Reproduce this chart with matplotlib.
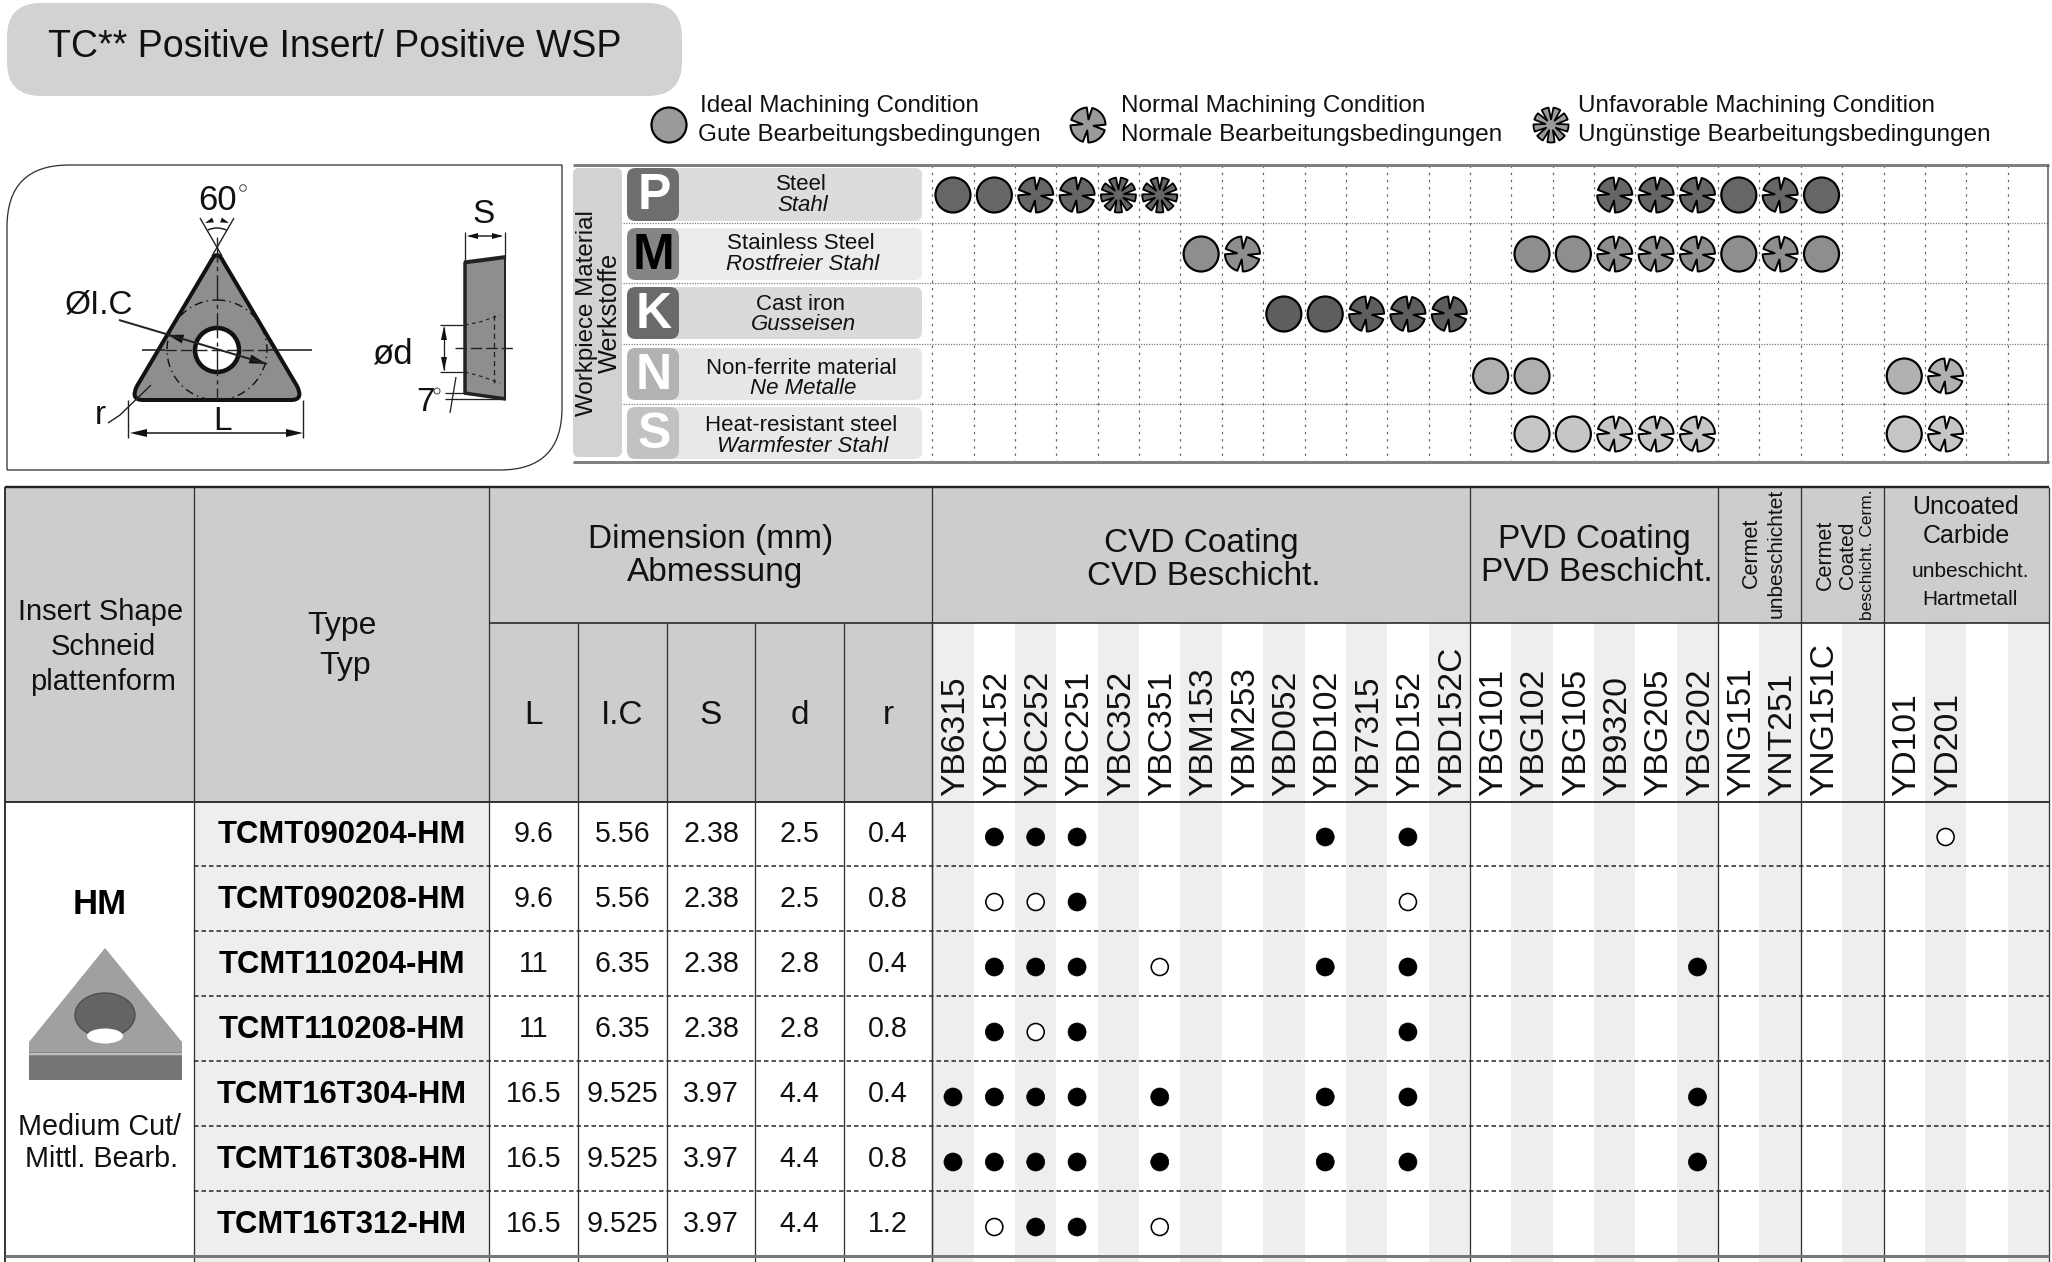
import numpy as np
import matplotlib
matplotlib.use("Agg")
import matplotlib.pyplot as plt
from matplotlib.patches import Rectangle, FancyBboxPatch, Circle, Ellipse, Polygon, PathPatch, Arc
from matplotlib.path import Path

plt.rcParams['font.family'] = ['Liberation Sans', 'DejaVu Sans']

# ---------- data ----------
title = "TC** Positive Insert/ Positive WSP"
legend_en = ["Ideal Machining Condition", "Normal Machining Condition", "Unfavorable Machining Condition"]
legend_de = ["Gute Bearbeitungsbedingungen", "Normale Bearbeitungsbedingungen", "Ungünstige Bearbeitungsbedingungen"]

grades = ["YB6315", "YBC152", "YBC252", "YBC251", "YBC352", "YBC351", "YBM153", "YBM253", "YBD052",
          "YBD102", "YB7315", "YBD152", "YBD152C", "YBG101", "YBG102", "YBG105", "YB9320", "YBG205",
          "YBG202", "YNG151", "YNT251", "YNG151C", "", "YD101", "YD201", "", ""]

materials = ["P", "M", "K", "N", "S"]
material_en = ["Steel", "Stainless Steel", "Cast iron", "Non-ferrite material", "Heat-resistant steel"]
material_de = ["Stahl", "Rostfreier Stahl", "Gusseisen", "Ne Metalle", "Warmfester Stahl"]

# rating: 0 ideal, 1 normal, 2 unfavourable, keyed by grade column
rating_P = {0: 0, 1: 0, 2: 1, 3: 1, 4: 2, 5: 2, 16: 1, 17: 1, 18: 1, 19: 0, 20: 1, 21: 0}
rating_M = {6: 0, 7: 1, 14: 0, 15: 0, 16: 1, 17: 1, 18: 1, 19: 0, 20: 1, 21: 0}
rating_K = {8: 0, 9: 0, 10: 1, 11: 1, 12: 1}
rating_N = {13: 0, 14: 0, 23: 0, 24: 1}
rating_S = {14: 0, 15: 0, 16: 1, 17: 1, 18: 1, 23: 0, 24: 1}
ratings = [rating_P, rating_M, rating_K, rating_N, rating_S]

models = ["TCMT090204-HM", "TCMT090208-HM", "TCMT110204-HM", "TCMT110208-HM",
          "TCMT16T304-HM", "TCMT16T308-HM", "TCMT16T312-HM"]
dim_L = ["9.6", "9.6", "11", "11", "16.5", "16.5", "16.5"]
dim_IC = ["5.56", "5.56", "6.35", "6.35", "9.525", "9.525", "9.525"]
dim_S = ["2.38", "2.38", "2.38", "2.38", "3.97", "3.97", "3.97"]
dim_d = ["2.5", "2.5", "2.8", "2.8", "4.4", "4.4", "4.4"]
dim_r = ["0.4", "0.8", "0.4", "0.8", "0.4", "0.8", "1.2"]

# recommended (filled) and available (open) grades per model row
filled = [[1, 2, 3, 9, 11], [3], [1, 2, 3, 9, 11, 18], [1, 3, 11],
          [0, 1, 2, 3, 5, 9, 11, 18], [0, 1, 2, 3, 5, 9, 11, 18], [2, 3]]
opened = [[24], [1, 2, 11], [5], [2], [], [], [1, 5]]

# ---------- layout ----------
W, H = 2052, 1262
fig = plt.figure(figsize=(W / 100, H / 100), dpi=100)
ax = fig.add_axes([0, 0, 1, 1])
ax.set_xlim(0, W)
ax.set_ylim(H, 0)
ax.axis('off')

px = 0.72
X0 = 932.3
XR = 2049
CW = (XR - X0) / 27
def cx(i):
    return X0 + CW * (i + 0.5)

def T(x, y, s, size, **kw):
    kw.setdefault('ha', 'center')
    kw.setdefault('va', 'center')
    kw.setdefault('color', '#111111')
    if kw.get('rotation'):
        x += 3
    else:
        y += 2.7
    return ax.text(x, y, s, fontsize=size, **kw)

def L(xs, ys, lw=1.0, c='#222222', ls='-', z=3, **kw):
    ax.plot(xs, ys, color=c, lw=lw * px, ls=ls, zorder=z, solid_capstyle='butt', **kw)

def R(x0, y0, x1, y1, c, z=1):
    ax.add_patch(Rectangle((x0, y0), x1 - x0, y1 - y0, fc=c, ec='none', zorder=z))

def RB(x0, y0, x1, y1, rad, c, z=1):
    ax.add_patch(FancyBboxPatch((x0 + rad, y0 + rad), x1 - x0 - 2 * rad, y1 - y0 - 2 * rad,
                                boxstyle=f"round,pad={rad},rounding_size={rad}", fc=c, ec='none', zorder=z))

def head(tip, base, w=5, c='#111111'):
    t, b = np.array(tip, float), np.array(base, float)
    d = t - b
    n = np.array([-d[1], d[0]]) / np.hypot(*d) * w
    ax.add_patch(Polygon([t, b + n, b - n], fc=c, ec='none', zorder=6))

def notched(x, y, r, angles, hw, depth, fc, lw=1.8, z=5):
    """Circle with radial slits at the given angles (degrees, counter-clockwise)."""
    angles = sorted(np.mod(angles, 360))
    pts = []
    for k, a in enumerate(angles):
        nxt = angles[(k + 1) % len(angles)] + (360 if k == len(angles) - 1 else 0)
        pts.append((a, depth * r))
        for t in np.linspace(a + hw, nxt - hw, 14):
            pts.append((t, r))
    p = [(x + q * np.cos(np.radians(t)), y - q * np.sin(np.radians(t))) for t, q in pts]
    ax.add_patch(Polygon(p, closed=True, fc=fc, ec='black', lw=lw * px, joinstyle='round', zorder=z))

NORMAL_ANG = [85, -8, 262, 172]
UNFAV_ANG = [10 + 40 * k for k in range(9)]

def mark(x, y, kind, fc, r=17.5):
    if kind == 0:
        ax.add_patch(Circle((x, y), r, fc=fc, ec='black', lw=2.2 * px, zorder=5))
    elif kind == 1:
        notched(x, y, r, NORMAL_ANG, 9, 0.32, fc, lw=2.0)
    else:
        notched(x, y, r, UNFAV_ANG, 8, 0.32, fc, lw=1.8)

# ---------- title ----------
RB(7, 3, 682, 96, 34, '#d2d2d2')
T(48, 44, title, 27, ha='left')

# ---------- legend ----------
legend_mark_x = [669, 1088, 1551]
legend_en_x = [700, 1121, 1578]
legend_de_x = [698, 1121, 1578]
for i in range(3):
    mark(legend_mark_x[i], 125, i, '#9a9a9a')
    T(legend_en_x[i], 103.5, legend_en[i], 17.5, ha='left')
    T(legend_de_x[i], 132.5, legend_de[i], 17.5, ha='left')

# ---------- diagram frame ----------
rad = 62
verts = [(7, 470), (7, 165 + rad), (7, 165), (7 + rad, 165), (562, 165), (562, 470 - rad), (562, 470),
         (562 - rad, 470), (7, 470)]
codes = [Path.MOVETO, Path.LINETO, Path.CURVE3, Path.CURVE3, Path.LINETO, Path.LINETO, Path.CURVE3, Path.CURVE3, Path.LINETO]
ax.add_patch(PathPatch(Path(verts, codes), fc='white', ec='#333333', lw=1.3 * px, zorder=2))

# triangle view
tri = Path([(217, 255), (220, 255), (223, 261), (297, 386), (304, 400), (291, 400), (143, 400), (130, 400),
            (137, 386), (211, 261), (214, 255), (217, 255)],
           [Path.MOVETO, Path.CURVE3, Path.CURVE3, Path.LINETO, Path.CURVE3, Path.CURVE3, Path.LINETO,
            Path.CURVE3, Path.CURVE3, Path.LINETO, Path.CURVE3, Path.CURVE3])
ax.add_patch(PathPatch(tri, fc='#8e8e8e', ec='#111111', lw=4 * px, zorder=4))
ax.add_patch(Circle((217, 350), 50, fc='none', ec='#111111', lw=1.4 * px, ls=(0, (6, 3, 1, 3)), zorder=5))
ax.add_patch(Circle((217, 350), 22, fc='white', ec='#111111', lw=4.5 * px, zorder=5))
L([142, 165], [350, 350], 1.6, z=5)
L([267, 312], [350, 350], 1.6, z=5)
L([165, 267], [350, 350], 1.4, ls=(0, (8, 3)), z=6)
L([217, 217], [237, 400], 1.4, ls=(0, (18, 3, 3, 3)), z=6)
L([200, 222], [218, 256], 1.4, z=3)
L([234, 212], [218, 256], 1.4, z=3)
ax.add_patch(Arc((217, 250), 44, 44, theta1=245, theta2=295, ec='#111111', lw=1.4 * px, zorder=5))
head((205, 223), (213, 220), 2.5)
head((229, 223), (221, 220), 2.5)
T(218, 198, "60", 25)
ax.add_patch(Circle((243, 188), 3.3, fc='white', ec='#333333', lw=0.9 * px, zorder=5))
T(99, 302, "ØI.C", 24)
L([119, 267], [320, 364], 2.0, z=7)
head((168, 335), (183, 339), 4.5)
head((267, 364), (250, 359), 4.5)
T(100, 413, "r", 24)
L([108, 120, 151], [423, 415, 385], 1.4, z=5)
L([128, 128], [400, 438], 1.4)
L([303, 303], [400, 438], 1.4)
L([135, 298], [433, 433], 1.6)
head((130, 433), (147, 433), 4)
head((303, 433), (286, 433), 4)
T(223, 419, "L", 24)

# side view
ax.add_patch(Polygon([(465, 262), (505, 257), (505, 398), (465, 393)], fc='#8e8e8e', ec='none', zorder=4))
L([465, 465], [262, 393], 3.5, z=5)
L([505, 505], [257, 398], 2.0, z=5)
L([464, 506], [262.5, 257], 4, z=5)
L([464, 506], [393, 399], 3.5, z=5)
L([465, 465], [232, 262], 1.3)
L([505, 505], [232, 257], 1.3)
L([469, 501], [236, 236], 1.5)
head((467, 236), (478, 236), 3)
head((503, 236), (492, 236), 3)
T(484, 212, "S", 24)
L([440, 465], [325, 325], 1.3)
L([440, 465], [372, 372], 1.3)
L([444, 444], [327, 370], 1.3)
head((444, 326), (444, 340), 3)
head((444, 371), (444, 357), 3)
T(393, 351, "ød", 25)
L([455, 514], [348, 348], 1.4, ls=(0, (8, 3)), z=6)
L([494, 494], [315, 383], 1.3, ls=(0, (4, 3)), z=6)
L([465, 480, 500], [325, 322, 315], 1.2, ls=(0, (3, 3)), z=6)
L([465, 480, 500], [372, 376, 383], 1.2, ls=(0, (3, 3)), z=6)
T(425, 400, "7", 24)
ax.add_patch(Circle((437, 391), 3, fc='white', ec='#333333', lw=0.9 * px, zorder=5))
L([445, 465], [393, 393], 1.3)
L([445, 505], [399, 399], 1.3)
L([456, 450], [377, 413], 1.3)

# ---------- material table ----------
Y_top, Y_bot = 165, 462
row_sep = [223, 283, 344, 404]
for y in row_sep:
    L([573, XR], [y, y], 1.2, c='#777777', ls=(0, (1, 1.2)), z=2)
for i in range(1, 27):
    L([X0 + CW * i] * 2, [Y_top, Y_bot], 1.2, c='#666666', ls=(0, (2, 4)), z=2)
L([X0, X0], [Y_top, Y_bot], 1.2, c='#666666', ls=(0, (2, 4)), z=2)
L([573, XR], [Y_top, Y_top], 3, c='#808080', z=3)
L([573, XR], [Y_bot, Y_bot], 3, c='#808080', z=3)
L([XR - 1, XR - 1], [Y_top, Y_bot], 1.5, c='#555555', z=3)
RB(573, 168, 622, 457, 6, '#d2d2d2', z=2)
T(584, 313, "Workpiece Material", 17.4, rotation=90)
T(607, 313, "Werkstoffe", 18.2, rotation=90)

box_y = [(168, 221), (228, 280), (287, 339), (348, 400), (407, 459)]
box_col = ['#dcdcdc', '#ececec', '#dadada', '#e6e6e6', '#e8e8e8']
badge_col = ['#6e6e6e', '#858585', '#6a6a6a', '#b2b2b2', '#c2c2c2']
letter_col = ['white', 'black', 'white', 'white', 'white']
mark_col = ['#666666', '#8e8e8e', '#5e5e5e', '#b0b0b0', '#c6c6c6']
mark_y = [195, 254, 314, 376, 434]
en_y = [182, 241, 302, 366, 423]
de_y = [203, 262, 322, 386, 444]
for i, m in enumerate(materials):
    y0, y1 = box_y[i]
    RB(627, y0, 922, y1, 7, box_col[i], z=2)
    RB(627, y0, 679, y1, 9, badge_col[i], z=3)
    T(654, (y0 + y1) / 2 - 1, m, 36, color=letter_col[i], fontweight='bold', zorder=4)
    T(801, en_y[i], material_en[i], 16.0, zorder=4)
    T(803, de_y[i], material_de[i], 16.0, style='italic', zorder=4)
    for col, kind in ratings[i].items():
        mark(cx(col), mark_y[i], kind, mark_col[i])

# ---------- main table ----------
T_top, T_mid, T_head, T_rows = 487, 623, 802, [866, 931, 996, 1061, 1126, 1191]
T_end = 1256
vx = [194, 489, 578, 667, 755, 844, X0]
sec_x = [X0, X0 + 13 * CW, X0 + 19 * CW, X0 + 21 * CW, X0 + 23 * CW, XR]

R(6, T_top, XR, T_mid, '#cdcdcd')
R(6, T_mid, X0, T_head, '#cdcdcd')
R(194, T_head, 489, H, '#eeeeee')
for i in range(27):
    if i % 2 == 0:
        R(X0 + CW * i, T_mid, X0 + CW * (i + 1), H, '#eeeeee')

# borders
L([5, XR], [T_top, T_top], 2.4, c='#222222', z=4)
L([489, XR], [T_mid, T_mid], 1.6, c='#222222', z=4)
L([5, XR], [T_head, T_head], 1.8, c='#222222', z=4)
L([5, 5], [T_top, H], 1.8, c='#222222', z=4)
for x in vx:
    L([x, x], [T_mid if x > 489 else T_top, H], 1.3, c='#333333', z=4)
for x in sec_x:
    L([x, x], [T_top, H], 1.3, c='#333333', z=4)
for y in T_rows:
    L([194, XR], [y, y], 1.5, c='#222222', ls=(0, (3, 2)), z=4)
L([5, XR], [T_end, T_end], 3, c='#777777', z=4)

# header text
T(101, 609, "Insert Shape", 21)
T(103, 644, "Schneid", 21)
T(103, 679, "plattenform", 21)
T(342, 623, "Type", 23)
T(345, 663, "Typ", 23)
T(711, 537, "Dimension (mm)", 24)
T(715, 570, "Abmessung", 24)
col_x = [533.5, 622.5, 711, 799.5, 888]
for x, s in zip(col_x, ["L", "I.C", "S", "d", "r"]):
    T(x, 713, s, 24)
T(1201, 541, "CVD Coating", 24)
T(1204, 574, "CVD Beschicht.", 24)
T(1594, 537, "PVD Coating", 24)
T(1597, 570, "PVD Beschicht.", 24)
T(1748, 553, "Cermet", 15.5, rotation=90)
T(1773, 553, "unbeschichtet", 15, rotation=90)
T(1822, 555, "Cermet", 15.5, rotation=90)
T(1844, 555, "Coated", 15, rotation=90)
T(1865, 555, "beschicht. Cerm.", 12.5, rotation=90)
T(1966, 504, "Uncoated", 18)
T(1966, 533, "Carbide", 18)
T(1970, 569, "unbeschicht.", 15)
T(1970, 597, "Hartmetall", 15)
for i, g in enumerate(grades):
    if g:
        T(cx(i), 796, g, 24.2, rotation=90, va='bottom', ha='center', zorder=5)

# left cell: HM + insert picture
T(100, 902, "HM", 25, fontweight='bold', color='black')
ax.add_patch(Polygon([(105, 948), (182, 1042), (182, 1056), (29, 1056), (29, 1042)], fc='#a0a0a0', ec='none', zorder=3))
ax.add_patch(Polygon([(29, 1052), (182, 1052), (182, 1080), (29, 1080)], fc='#757575', ec='none', zorder=3))
L([29, 182], [1054, 1054], 2.5, c='#bdbdbd', z=4)
ax.add_patch(Ellipse((105, 1015), 60, 44, fc='#646464', ec='#4e4e4e', lw=1, zorder=4))
ax.add_patch(Ellipse((105, 1036), 36, 15, fc='white', ec='none', zorder=5))
T(100, 1124, "Medium Cut/", 20.7)
T(102, 1156, "Mittl. Bearb.", 20.7)

# rows
for r, m in enumerate(models):
    yc = (T_head + 65 * r) + 30
    T(342, yc, m, 22.3, fontweight='bold', color='black', zorder=5)
    for x, vals in zip(col_x, [dim_L, dim_IC, dim_S, dim_d, dim_r]):
        T(x, yc - 1, vals[r], 20.6, zorder=5)
    ydot = T_head + 35 + 65 * r
    for c in filled[r]:
        ax.add_patch(Circle((cx(c), ydot), 9, fc='black', ec='black', lw=0.5, zorder=5))
    for c in opened[r]:
        ax.add_patch(Circle((cx(c), ydot), 8.5, fc='white', ec='black', lw=1.6 * px, zorder=5))

fig.savefig("out.png", dpi=100, facecolor='white')
